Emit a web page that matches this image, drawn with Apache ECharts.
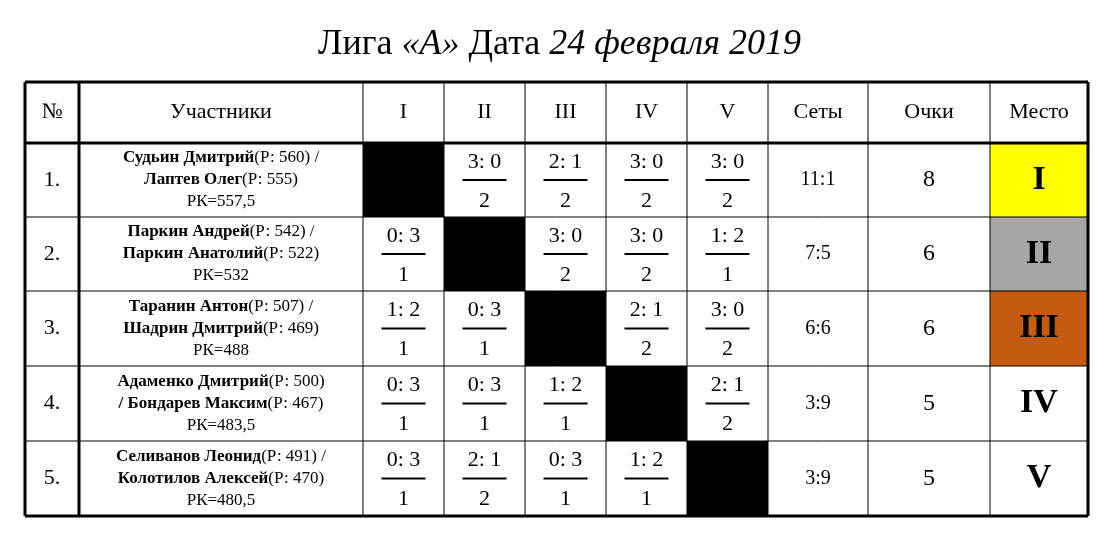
<!DOCTYPE html>
<html><head><meta charset="utf-8">
<script src="https://cdn.jsdelivr.net/npm/echarts@6/dist/echarts.min.js"></script>
<style>html,body{margin:0;padding:0;background:#fff}#c{width:1119px;height:538px}</style>
</head><body><div id="c"></div>
<script>
// ---- data ----
const headers = ['№','Участники','I','II','III','IV','V','Сеты','Очки','Место'];
const rowNumbers = ['1.','2.','3.','4.','5.'];
const playerLine1 = [
  [['Судьин Дмитрий','(Р: 560) /']],
  [['Паркин Андрей','(Р: 542) /']],
  [['Таранин Антон','(Р: 507) /']],
  [['Адаменко Дмитрий','(Р: 500)']],
  [['Селиванов Леонид','(Р: 491) /']]
];
const playerLine2 = [
  [['Лаптев Олег','(Р: 555)']],
  [['Паркин Анатолий','(Р: 522)']],
  [['Шадрин Дмитрий','(Р: 469)']],
  [['/ Бондарев Максим','(Р: 467)']],
  [['Колотилов Алексей','(Р: 470)']]
];
const ratingRK = ['РК=557,5','РК=532','РК=488','РК=483,5','РК=480,5'];
const scores = [
  [null,'3: 0','2: 1','3: 0','3: 0'],
  ['0: 3',null,'3: 0','3: 0','1: 2'],
  ['1: 2','0: 3',null,'2: 1','3: 0'],
  ['0: 3','0: 3','1: 2',null,'2: 1'],
  ['0: 3','2: 1','0: 3','1: 2',null]
];
const matchPoints = [
  [null,2,2,2,2],
  [1,null,2,2,1],
  [1,1,null,2,2],
  [1,1,1,null,2],
  [1,2,1,1,null]
];
const sets = ['11:1','7:5','6:6','3:9','3:9'];
const points = [8,6,6,5,5];
const places = ['I','II','III','IV','V'];
const placeColors = ['#ffff00','#a6a6a6','#c55a11',null,null];

// ---- layout (not data) ----
const colEdges = [25,79,363,444,525,606,687,768,868,990,1088];
const rowEdges = [82,143,217,291,366,441,516];
const F = '"Liberation Serif","Times New Roman",serif';

function renderItem(params, api){
  const r = api.value(0);
  const P = (x,y)=>api.coord([x,y]);
  const children = [];
  const yTop = P(0,rowEdges[r])[1], yBot = P(0,rowEdges[r+1])[1];
  const yc = (yTop+yBot)/2;
  const cx = c => (P(colEdges[c],0)[0]+P(colEdges[c+1],0)[0])/2;
  const rect = (c,fill)=>{const a=P(colEdges[c],rowEdges[r]),b=P(colEdges[c+1],rowEdges[r+1]);
    children.push({type:'rect',shape:{x:a[0],y:a[1],width:b[0]-a[0],height:b[1]-a[1]},style:{fill:fill}});};
  const txt = (x,y,t,font,extra)=>children.push({type:'text',x:x,y:y,style:Object.assign({text:t,font:font,fill:'#000',align:'center',verticalAlign:'middle'},extra||{})});
  if(r===0){
    headers.forEach((h,c)=>txt(cx(c),yc,h,'22px '+F));
  } else {
    const i = r-1;
    txt(cx(0),yc,rowNumbers[i],'22px '+F);
    const seg = l=>l.map(s=>'{b|'+s[0]+'}{n|'+s[1]+'}').join('');
    const rich = {rich:{b:{fontWeight:'bold',fontSize:17,fontFamily:F,fill:'#000'},n:{fontSize:17,fontFamily:F,fill:'#000'}}};
    txt(cx(1),yc-22,seg(playerLine1[i]),'17px '+F,rich);
    txt(cx(1),yc,seg(playerLine2[i]),'17px '+F,rich);
    txt(cx(1),yc+22,ratingRK[i],'17px '+F);
    for(let j=0;j<5;j++){
      const c=j+2;
      if(scores[i][j]===null){rect(c,'#000');continue;}
      txt(cx(c),yc-18,scores[i][j],'22px '+F);
      children.push({type:'line',shape:{x1:cx(c)-22,y1:yc,x2:cx(c)+22,y2:yc},style:{stroke:'#000',lineWidth:2}});
      txt(cx(c),yc+21,String(matchPoints[i][j]),'22px '+F);
    }
    txt(cx(7),yc,sets[i],'20px '+F);
    txt(cx(8),yc,String(points[i]),'24px '+F);
    if(placeColors[i]) rect(9,placeColors[i]);
    txt(cx(9),yc,places[i],'bold 34px '+F);
  }
  if(r===rowEdges.length-2){
    // grid lines
    const L=(x1,y1,x2,y2,w)=>{const a=P(x1,y1),b=P(x2,y2);children.push({type:'line',z2:50,shape:{x1:a[0],y1:a[1],x2:b[0],y2:b[1]},style:{stroke:'#000',lineWidth:w}});};
    const X0=colEdges[0],X1=colEdges[colEdges.length-1],Y0=rowEdges[0],Y1=rowEdges[rowEdges.length-1];
    colEdges.forEach((x,k)=>L(x,Y0,x,Y1,(k===0||k===colEdges.length-1)?3:(k===1?3:1)));
    rowEdges.forEach((y,k)=>L(X0,y,X1,y,(k===0||k===rowEdges.length-1||k===1)?3:1));
  }
  return {type:'group',children:children};
}

const chart = echarts.init(document.getElementById('c'));
chart.setOption({
  animation:false,
  title:{text:'Лига {i|«А»} Дата {i|24 февраля 2019}',left:'center',top:22,
    textStyle:{fontFamily:F,fontSize:36,fontWeight:'normal',color:'#000',
      rich:{i:{fontFamily:F,fontSize:36,fontStyle:'italic',color:'#000'}}}},
  grid:{left:0,right:0,top:0,bottom:0},
  xAxis:{type:'value',min:0,max:1119,show:false},
  yAxis:{type:'value',min:0,max:538,inverse:true,show:false},
  series:[{type:'custom',renderItem:renderItem,data:[[0],[1],[2],[3],[4],[5]],clip:false}]
});
</script></body></html>
